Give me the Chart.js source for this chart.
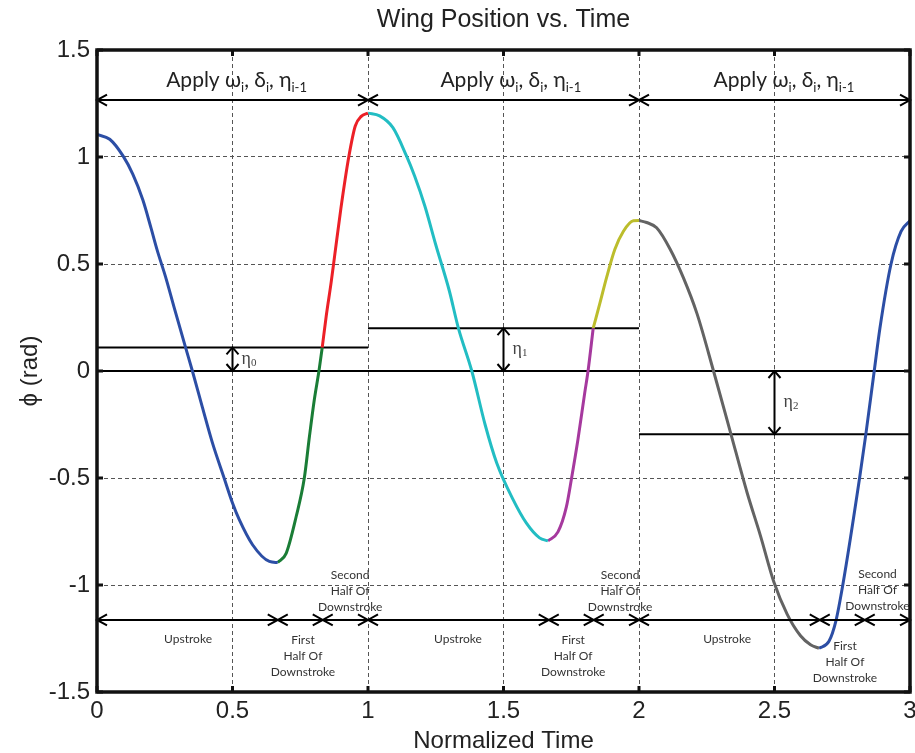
<!DOCTYPE html>
<html>
<head>
<meta charset="utf-8">
<script src="https://cdn.jsdelivr.net/npm/chart.js@4.4.1/dist/chart.umd.min.js"></script>
<style>
  html, body { margin: 0; padding: 0; background: #fff; }
  #wrap { width: 915px; height: 753px; }
</style>
</head>
<body>
<div id="wrap"><canvas id="wing"></canvas></div>
<script>
// wing position: normalized time / phi (rad), one pair per stroke phase
var up1T = [0, 0.047, 0.096, 0.132, 0.169, 0.200, 0.222, 0.253, 0.284, 0.327, 0.352, 0.389, 0.426, 0.469, 0.500, 0.525, 0.574, 0.636, 0.667];
var up1P = [1.105, 1.083, 1.005, 0.920, 0.800, 0.665, 0.565, 0.440, 0.300, 0.109, 0.0, -0.170, -0.336, -0.500, -0.617, -0.695, -0.812, -0.890, -0.895];
var fh1T = [0.667, 0.698, 0.735, 0.765, 0.784, 0.802, 0.819, 0.831];
var fh1P = [-0.895, -0.852, -0.680, -0.500, -0.305, -0.133, 0.0, 0.109];
var sh1T = [0.831, 0.846, 0.864, 0.877, 0.900, 0.929, 0.953, 0.975, 1.0];
var sh1P = [0.109, 0.258, 0.414, 0.539, 0.760, 1.000, 1.145, 1.190, 1.205];

var up2T = [1.0, 1.043, 1.092, 1.142, 1.172, 1.210, 1.250, 1.300, 1.333, 1.383, 1.432, 1.475, 1.535, 1.584, 1.633, 1.664];
var up2P = [1.205, 1.192, 1.137, 1.005, 0.911, 0.770, 0.590, 0.375, 0.203, 0.0, -0.250, -0.430, -0.600, -0.710, -0.780, -0.794];
var fh2T = [1.664, 1.701, 1.732, 1.751, 1.775, 1.800, 1.812, 1.831];
var fh2P = [-0.794, -0.752, -0.635, -0.502, -0.318, -0.100, 0.0, 0.200];
var sh2T = [1.831, 1.856, 1.880, 1.911, 1.942, 1.979, 2.0];
var sh2P = [0.200, 0.318, 0.435, 0.569, 0.652, 0.702, 0.703];

var up3T = [2.0, 2.028, 2.065, 2.115, 2.164, 2.214, 2.275, 2.337, 2.399, 2.448, 2.498, 2.547, 2.596, 2.633, 2.664];
var up3P = [0.703, 0.694, 0.669, 0.569, 0.435, 0.268, 0.0, -0.284, -0.569, -0.769, -0.987, -1.137, -1.237, -1.279, -1.296];
var dn3T = [2.664, 2.701, 2.726, 2.752, 2.814, 2.837, 2.868, 2.889, 2.930, 2.967, 3.0];
var dn3P = [-1.296, -1.263, -1.171, -1.0, -0.5, -0.296, 0.0, 0.2, 0.5, 0.652, 0.702];

var segColors = ['#2c4ea5', '#1a7d36', '#ec2027', '#22bdc3', '#a6399e', '#bcbd2c', '#636363', '#2c4ea5'];

// eta offsets (horizontal reference lines per cycle)
var etaLevel = [0.11, 0.20, -0.295];
var etaFrom = [0, 1, 2];
var etaTo = [1, 2, 3];
var etaArrowX = [0.5, 1.5, 2.5];

// span arrows
var applyBounds = [0, 1, 2, 3];
var applyY = 1.266;
var applyLabelX = [0.515, 1.527, 2.535];
var applyLabelY = 1.327;
var phaseBounds = [0, 0.667, 0.833, 1, 1.667, 1.833, 2, 2.667, 2.833, 3];
var phaseY = -1.163;

// phase captions
var upLabelX = [0.336, 1.332, 2.325];
var upLabelY = -1.252;
var firstLabelX = [0.76, 1.757, 2.76];
var firstLabelY = [-1.257, -1.257, -1.285];
var secondLabelX = [0.934, 1.93, 2.88];
var secondLabelY = [-0.953, -0.953, -0.948];

function pts(t, p) {
  return t.map(function (v, i) { return { x: v, y: p[i] }; });
}

var segs = [[up1T, up1P], [fh1T, fh1P], [sh1T, sh1P], [up2T, up2P], [fh2T, fh2P], [sh2T, sh2P], [up3T, up3P], [dn3T, dn3P]];
var datasets = segs.map(function (s, i) {
  return {
    data: pts(s[0], s[1]),
    borderColor: segColors[i],
    borderWidth: 3,
    pointRadius: 0,
    cubicInterpolationMode: 'monotone',
    fill: false
  };
});
// zero line and eta lines
datasets.push({ data: [{ x: 0, y: 0 }, { x: 3, y: 0 }], borderColor: '#000', borderWidth: 2, pointRadius: 0 });
for (var k = 0; k < etaLevel.length; k++) {
  datasets.push({
    data: [{ x: etaFrom[k], y: etaLevel[k] }, { x: etaTo[k], y: etaLevel[k] }],
    borderColor: '#000', borderWidth: 2, pointRadius: 0
  });
}

function head(ctx, x, y, dx, dy) {
  // chevron with tip at x,y, opening in direction (dx,dy)
  ctx.beginPath();
  if (dy === 0) {
    ctx.moveTo(x + dx * 10, y - 5.5);
    ctx.lineTo(x, y);
    ctx.lineTo(x + dx * 10, y + 5.5);
  } else {
    ctx.moveTo(x - 6, y + dy * 7);
    ctx.lineTo(x, y);
    ctx.lineTo(x + 6, y + dy * 7);
  }
  ctx.stroke();
}

function spanRow(ctx, px, py) {
  for (var i = 0; i < px.length - 1; i++) {
    ctx.beginPath();
    ctx.moveTo(px[i], py);
    ctx.lineTo(px[i + 1], py);
    ctx.stroke();
    head(ctx, px[i], py, 1, 0);
    head(ctx, px[i + 1], py, -1, 0);
  }
}

function subText(ctx, parts, x, y, big, small, drop, family, align) {
  var w = 0, i;
  for (i = 0; i < parts.length; i++) {
    ctx.font = (parts[i][1] ? small : big) + 'px ' + family;
    w += ctx.measureText(parts[i][0]).width;
  }
  var cx = align === 'center' ? x - w / 2 : x;
  ctx.textAlign = 'left';
  for (i = 0; i < parts.length; i++) {
    ctx.font = (parts[i][1] ? small : big) + 'px ' + family;
    ctx.fillText(parts[i][0], cx, y + (parts[i][1] ? drop : 0));
    cx += ctx.measureText(parts[i][0]).width;
  }
}

var annot = {
  id: 'annot',
  afterDatasetsDraw: function (chart) {
    var ctx = chart.ctx, xs = chart.scales.x, ys = chart.scales.y;
    var X = function (v) { return xs.getPixelForValue(v); };
    var Y = function (v) { return ys.getPixelForValue(v); };
    ctx.save();
    ctx.strokeStyle = '#000';
    ctx.lineWidth = 2;
    spanRow(ctx, applyBounds.map(X), Y(applyY));
    spanRow(ctx, phaseBounds.map(X), Y(phaseY));

    // eta double arrows
    for (var i = 0; i < etaLevel.length; i++) {
      var ax = X(etaArrowX[i]), y0 = Y(0), y1 = Y(etaLevel[i]);
      var top = Math.min(y0, y1), bot = Math.max(y0, y1);
      ctx.beginPath(); ctx.moveTo(ax, top); ctx.lineTo(ax, bot); ctx.stroke();
      head(ctx, ax, top, 0, 1);
      head(ctx, ax, bot, 0, -1);
      ctx.fillStyle = '#444';
      ctx.textBaseline = 'middle';
      subText(ctx, [['\u03b7', 0], [String(i), 1]], ax + 9, (top + bot) / 2, 18, 11, 4, '"Liberation Serif"', 'left');
    }

    // Apply labels
    ctx.fillStyle = '#222';
    ctx.textBaseline = 'alphabetic';
    var apply = [['Apply \u03c9', 0], ['i', 1], [', \u03b4', 0], ['i', 1], [', \u03b7', 0], ['i-1', 1]];
    for (i = 0; i < applyLabelX.length; i++) {
      subText(ctx, apply, X(applyLabelX[i]), Y(applyLabelY), 21, 13, 5, 'Lato', 'center');
    }

    // phase captions
    ctx.fillStyle = '#333';
    ctx.textAlign = 'center';
    ctx.textBaseline = 'middle';
    ctx.font = '12px Lato';
    for (i = 0; i < upLabelX.length; i++) {
      ctx.fillText('Upstroke', X(upLabelX[i]), Y(upLabelY));
      var lines1 = ['First', 'Half Of', 'Downstroke'];
      var lines2 = ['Second', 'Half Of', 'Downstroke'];
      for (var j = 0; j < 3; j++) {
        ctx.fillText(lines1[j], X(firstLabelX[i]), Y(firstLabelY[i]) + j * 16);
        ctx.fillText(lines2[j], X(secondLabelX[i]), Y(secondLabelY[i]) + j * 16);
      }
    }
    ctx.restore();
  },
  afterDraw: function (chart) {
    var ctx = chart.ctx, a = chart.chartArea, xs = chart.scales.x, ys = chart.scales.y;
    ctx.save();
    ctx.strokeStyle = '#111';
    ctx.lineWidth = 3;
    xs.ticks.forEach(function (t) {
      var px = xs.getPixelForValue(t.value);
      ctx.beginPath();
      ctx.moveTo(px, a.bottom); ctx.lineTo(px, a.bottom - 6);
      ctx.moveTo(px, a.top); ctx.lineTo(px, a.top + 6);
      ctx.stroke();
    });
    ys.ticks.forEach(function (t) {
      var py = ys.getPixelForValue(t.value);
      ctx.beginPath();
      ctx.moveTo(a.left, py); ctx.lineTo(a.left + 6, py);
      ctx.moveTo(a.right, py); ctx.lineTo(a.right - 6, py);
      ctx.stroke();
    });
    ctx.lineWidth = 3.5;
    ctx.strokeRect(a.left, a.top, a.right - a.left, a.bottom - a.top);
    ctx.restore();
  }
};

var tickFont = { family: '"Liberation Sans", Arial, sans-serif', size: 24 };
var plainNum = function (v) { return String(v); };

new Chart(document.getElementById('wing'), {
  type: 'line',
  data: { datasets: datasets },
  plugins: [annot],
  options: {
    responsive: true,
    maintainAspectRatio: false,
    animation: false,
    devicePixelRatio: 1,
    layout: { padding: { left: 0, right: 5, top: 0, bottom: 0 } },
    plugins: {
      legend: { display: false },
      tooltip: { enabled: false },
      title: {
        display: true,
        fullSize: false,
        text: 'Wing Position vs. Time',
        color: '#222',
        font: { family: '"Liberation Sans", Arial, sans-serif', size: 25, weight: 'normal' },
        padding: { top: 5, bottom: 15 }
      }
    },
    scales: {
      x: {
        type: 'linear',
        min: 0, max: 3,
        ticks: { stepSize: 0.5, font: tickFont, color: '#222', padding: 5, maxRotation: 0, callback: plainNum },
        grid: { color: '#555', lineWidth: 1, drawTicks: false },
        border: { display: false, dash: [4, 3] },
        title: { display: true, text: 'Normalized Time', color: '#222', font: tickFont, padding: { top: 0, bottom: -3 } },
        afterFit: function (s) { s.height = 61; s.paddingLeft = 0; s.paddingRight = 0; }
      },
      y: {
        min: -1.5, max: 1.5,
        ticks: { stepSize: 0.5, font: tickFont, color: '#222', padding: 7, callback: plainNum },
        grid: { color: '#555', lineWidth: 1, drawTicks: false },
        border: { display: false, dash: [4, 3] },
        title: { display: true, text: '\u03d5 (rad)', color: '#222', font: tickFont, padding: { top: 16, bottom: 0 } },
        afterFit: function (s) { s.width = 97; s.paddingTop = 0; s.paddingBottom = 0; }
      }
    }
  }
});
</script>
</body>
</html>
